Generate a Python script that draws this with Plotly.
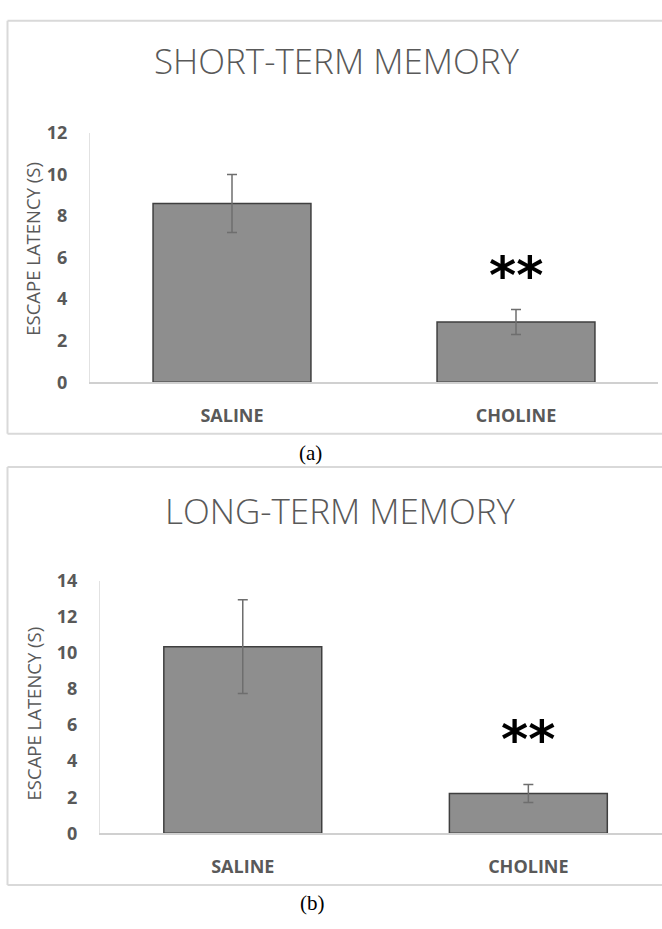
import plotly.graph_objects as go

# Escape latency (s), mean and SEM per treatment group
groups = ["SALINE", "CHOLINE"]
short_term_mean = [8.6, 2.9]
short_term_sem = [1.4, 0.6]
long_term_mean = [10.35, 2.2]
long_term_sem = [2.6, 0.5]

short_ticks = [0, 2, 4, 6, 8, 10, 12]
long_ticks = [0, 2, 4, 6, 8, 10, 12, 14]

# significance marker heights (data units) above the choline bars
short_star_y = 5.15
long_star_y = 5.25

W, H = 662, 929


def px(x):
    return x / W


def py(y):
    return 1 - y / H


GREY_TXT = "#595959"
BAR_FILL = "#8e8e8e"
BAR_EDGE = "#3f3f3f"
ERR_COL = "#6e6e6e"
FRAME = "#d9d9d9"
TICK_FONT = dict(family="Open Sans", size=18, color=GREY_TXT, weight="bold")

fig = go.Figure()

fig.add_trace(go.Bar(
    x=groups, y=short_term_mean, width=0.556,
    marker=dict(color=BAR_FILL, line=dict(color=BAR_EDGE, width=1.5)),
    error_y=dict(type="data", array=short_term_sem, color=ERR_COL, thickness=1.5, width=5),
    xaxis="x", yaxis="y", showlegend=False, hoverinfo="skip",
))
fig.add_trace(go.Bar(
    x=groups, y=long_term_mean, width=0.553,
    marker=dict(color=BAR_FILL, line=dict(color=BAR_EDGE, width=1.5)),
    error_y=dict(type="data", array=long_term_sem, color=ERR_COL, thickness=1.5, width=5),
    xaxis="x2", yaxis="y2", showlegend=False, hoverinfo="skip",
))

xcommon = dict(
    type="category", showgrid=False, zeroline=False, showline=True,
    linecolor="#d0d0d0", linewidth=2, ticks="", tickfont=TICK_FONT,
    ticklabelstandoff=16, fixedrange=True,
)
ycommon = dict(
    showgrid=False, zeroline=False, showline=True, linecolor="#e2e2e2",
    linewidth=1, ticks="", tickfont=TICK_FONT, ticklabelstandoff=18,
    fixedrange=True,
)

fig.update_layout(
    width=W, height=H,
    margin=dict(l=0, r=0, t=0, b=0),
    paper_bgcolor="white", plot_bgcolor="white",
    xaxis=dict(xcommon, domain=[px(90), px(658)], range=[-0.5, 1.5], anchor="y"),
    yaxis=dict(ycommon, domain=[py(379), py(123)], range=[0, 12],
               tickvals=short_ticks, anchor="x"),
    xaxis2=dict(xcommon, domain=[px(100), 1.0], range=[-0.5, 1.468], anchor="y2"),
    yaxis2=dict(ycommon, domain=[py(842), py(583)], range=[0, 14],
                tickvals=long_ticks, anchor="x2"),
)

# panel frames: left, top and bottom edges (right edge lies past the page)
for top, bottom in [(8, 432), (466, 895)]:
    for x0, y0, x1, y1 in [(7.5, top, 7.5, bottom),
                           (7.5, top, W, top),
                           (7.5, bottom, W, bottom)]:
        fig.add_shape(type="line", xref="paper", yref="paper",
                      x0=px(x0), y0=py(y0), x1=px(x1), y1=py(y1),
                      line=dict(color=FRAME, width=2), layer="below")

TITLE_FONT = dict(family="Open Sans", size=35, color=GREY_TXT, weight=300)
AX_FONT = dict(family="Open Sans", size=18.5, color=GREY_TXT)
STAR_FONT = dict(family="DejaVu Sans", size=52, color="black", weight="bold")
CAP_FONT = dict(family="Liberation Serif", size=21, color="black")

ann = [
    dict(text="SHORT-TERM MEMORY", x=px(337), y=py(49), font=TITLE_FONT),
    dict(text="LONG-TERM MEMORY", x=px(340), y=py(511), font=TITLE_FONT),
    dict(text="ESCAPE LATENCY (S)", x=px(33), y=py(242), font=AX_FONT, textangle=-90),
    dict(text="ESCAPE LATENCY (S)", x=px(33), y=py(719), font=AX_FONT, textangle=-90),
    dict(text="(a)", x=px(310), y=py(452), font=CAP_FONT),
    dict(text="(b)", x=px(312), y=py(914), font=CAP_FONT),
]
for a in ann:
    fig.add_annotation(xref="paper", yref="paper", showarrow=False,
                       xanchor="center", yanchor="middle", **a)

fig.add_annotation(text="**", x="CHOLINE", y=short_star_y, xref="x", yref="y",
                   showarrow=False, font=STAR_FONT, yanchor="middle")
fig.add_annotation(text="**", x="CHOLINE", y=long_star_y, xref="x2", yref="y2",
                   showarrow=False, font=STAR_FONT, yanchor="middle")

fig.write_html("out.html")
